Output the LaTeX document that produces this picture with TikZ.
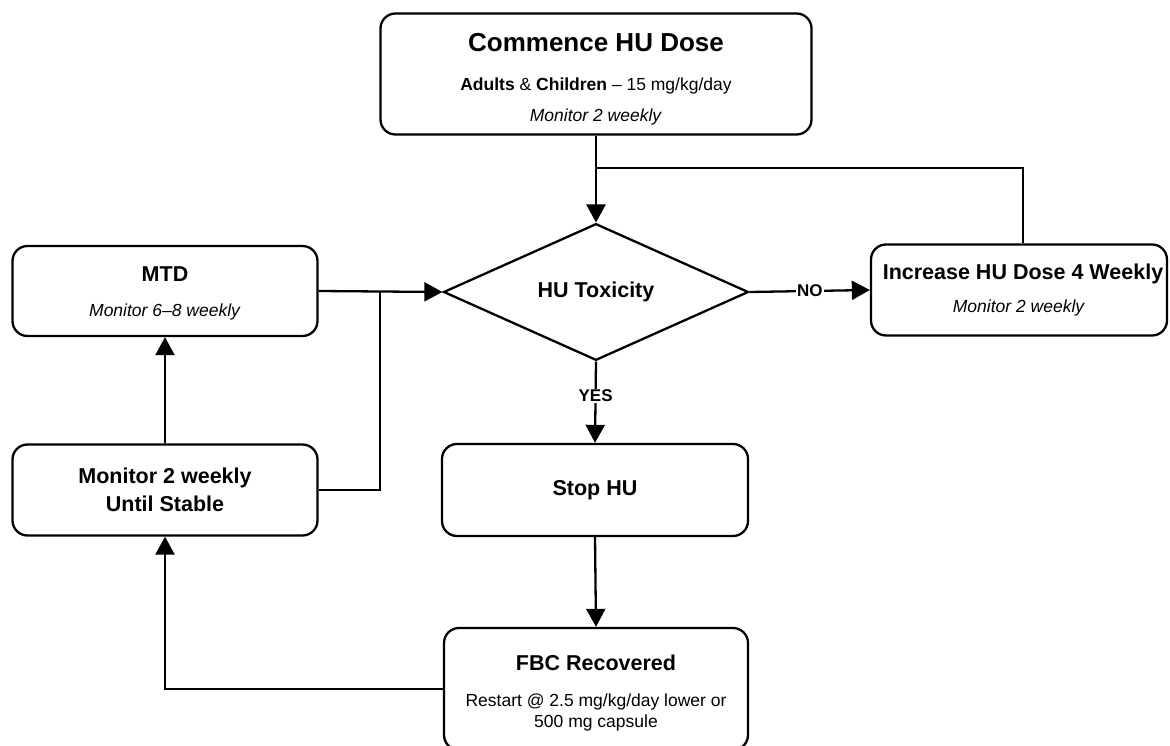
\documentclass[tikz,border=0pt]{standalone}
\usepackage{fontspec}
\setmainfont{Liberation Sans}
\usetikzlibrary{arrows.meta,shapes.geometric}

\tikzset{
  stepbox/.style={draw, line width=2.3pt, rounded corners=15pt, align=center, font=\fontsize{17.5}{20}\selectfont},
  decision/.style={draw, line width=2.3pt, diamond, inner sep=0pt, font=\fontsize{21.5}{20}\selectfont\bfseries},
  flow/.style={line width=2.3pt, -{Triangle[length=18pt,width=19pt]}},
  answer/.style={fill=white, font=\fontsize{17}{20}\selectfont\bfseries, inner sep=1pt}
}
\newcommand{\boxtitle}[1]{{\fontsize{21.5}{20}\selectfont\bfseries #1}}

\begin{document}
\begin{tikzpicture}[x=1pt,y=-1pt]
  \useasboundingbox (0,0) rectangle (1170,746);

  % boxes
  \node[stepbox, minimum width=431pt, minimum height=121pt] (start) at (596,74) {\rule{0pt}{29pt}{\fontsize{26}{20}\selectfont\bfseries Commence HU Dose}\\[19pt]
    \textbf{Adults} \& \textbf{Children} -- 15 mg/kg/day\\[11pt]
    \textit{Monitor 2 weekly}};
  \node[decision, minimum width=305pt, minimum height=122pt] (tox) at (596,292) {HU Toxicity};
  \node[stepbox, minimum width=305pt, minimum height=90pt] (mtd) at (165,291) {\rule{0pt}{19pt}\boxtitle{MTD}\\[15pt]
    \textit{Monitor 6--8 weekly}};
  \node[stepbox, minimum width=296pt, minimum height=91pt] (inc) at (1019,290) {\hspace*{8pt}\boxtitle{Increase HU Dose 4 Weekly}\\[13pt]
    \textit{Monitor 2 weekly}};
  \node[stepbox, minimum width=305pt, minimum height=91pt] (mon) at (165,490) {\boxtitle{Monitor 2 weekly}\\[7pt]
    \boxtitle{Until Stable}};
  \node[stepbox, minimum width=306pt, minimum height=92pt] (stop) at (595,490) {\boxtitle{Stop HU}};
  \node[stepbox, minimum width=304pt, minimum height=122pt] (fbc) at (596,689) {\rule{0pt}{23pt}\boxtitle{FBC Recovered}\\[16pt]
    Restart @ 2.5 mg/kg/day lower or\\[1pt]
    500 mg capsule};

  % connectors
  \coordinate (loop) at (596,168);
  \coordinate (join) at (380,291);
  \draw[flow] (start.south) -- (tox.north);
  \draw[line width=2.3pt] ([xshift=4pt]inc.north) |- (loop);
  \draw[flow] (mtd.east) -- (tox.west);
  \draw[line width=2.3pt] (mon.east) -| (join);
  \draw[flow] (tox.east) -- node[answer] {NO} (inc.west);
  \draw[flow] (tox.south) -- node[answer, pos=0.42] {YES} (stop.north);
  \draw[flow] (stop.south) -- (fbc.north);
  \draw[flow] (fbc.west) -| (mon.south);
  \draw[flow] (mon.north) -- (mtd.south);
\end{tikzpicture}
\end{document}
